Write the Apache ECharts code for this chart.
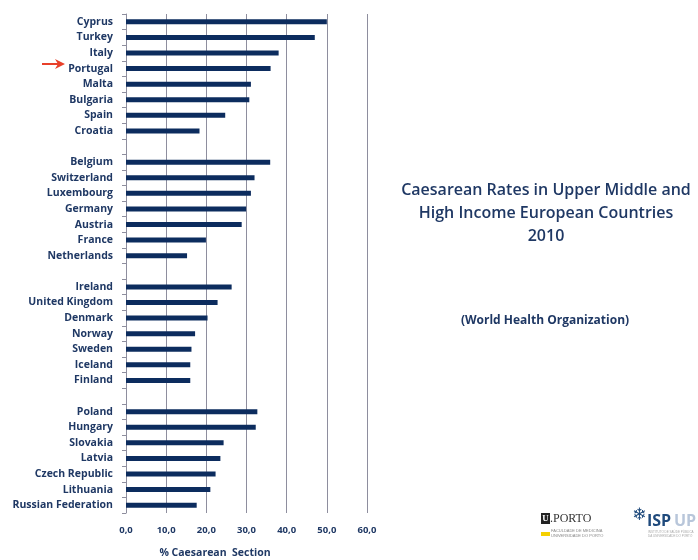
<!DOCTYPE html>
<html>
<head>
<meta charset="utf-8">
<script src="https://cdn.jsdelivr.net/npm/echarts@6/dist/echarts.min.js"></script>
<style>html,body{margin:0;padding:0;background:#fff;}#c{width:698px;height:560px;}</style>
</head>
<body>
<div id="c"></div>
<script>
var countries = ['Cyprus','Turkey','Italy','Portugal','Malta','Bulgaria','Spain','Croatia','',
  'Belgium','Switzerland','Luxembourg','Germany','Austria','France','Netherlands',' ',
  'Ireland','United Kingdom','Denmark','Norway','Sweden','Iceland','Finland','  ',
  'Poland','Hungary','Slovakia','Latvia','Czech Republic','Lithuania','Russian Federation'];
var rates = [50.0,47.0,38.0,36.0,31.1,30.7,24.7,18.3,'-',
  35.9,32.0,31.1,29.9,28.8,19.9,15.2,'-',
  26.3,22.8,20.3,17.2,16.3,16.0,16.0,'-',
  32.7,32.3,24.3,23.5,22.3,21.0,17.6];
var xTicks = [0,10,20,30,40,50,60];
var titleLines = ['Caesarean Rates in Upper Middle and','High Income European Countries','2010'];
var sourceText = '(World Health Organization)';
var axisName = '% Caesarean  Section';

var chart = echarts.init(document.getElementById('c'), null, {renderer:'canvas'});
var txtColor = '#1f3864';
var font = '"Open Sans", Lato, sans-serif';
chart.setOption({
  animation:false,
  grid:{left:126, right:331, top:14, bottom:47, containLabel:false},
  xAxis:{type:'value', min:xTicks[0], max:xTicks[xTicks.length-1], interval:10,
    axisLine:{show:false}, axisTick:{show:false},
    splitLine:{show:true, lineStyle:{color:'#8e8e9e', width:1}},
    axisLabel:{margin:12, color:txtColor, fontSize:9.5, fontWeight:'bold', fontFamily:font,
      formatter:function(v){return v.toFixed(1).replace('.',',');}}
  },
  yAxis:{type:'category', data:countries, inverse:true,
    axisLine:{show:true, lineStyle:{color:'#8e8e9e', width:1}},
    axisTick:{show:true, length:4, lineStyle:{color:'#8e8e9e'}},
    axisLabel:{interval:0, margin:13, color:txtColor, fontSize:10.5, fontWeight:'bold', fontFamily:font}
  },
  series:[{type:'bar', data:rates, barWidth:5, itemStyle:{color:'#0c2c5e'}}],
  graphic:[
    {type:'text', x:215, y:553, style:{text:axisName, fill:txtColor, font:'bold 10.5px '+font, textAlign:'center', textVerticalAlign:'middle'}},
    {type:'text', x:546, y:190, style:{text:titleLines[0], fill:txtColor, font:'600 16px '+font, textAlign:'center', textVerticalAlign:'middle'}},
    {type:'text', x:546, y:213, style:{text:titleLines[1], fill:txtColor, font:'600 16px '+font, textAlign:'center', textVerticalAlign:'middle'}},
    {type:'text', x:546, y:236, style:{text:titleLines[2], fill:txtColor, font:'600 16px '+font, textAlign:'center', textVerticalAlign:'middle'}},
    {type:'text', x:545, y:321, style:{text:sourceText, fill:txtColor, font:'bold 12px '+font, textAlign:'center', textVerticalAlign:'middle'}},
    {type:'group', children:[
      {type:'line', shape:{x1:42,y1:64,x2:62,y2:64}, style:{stroke:'#e8402a', lineWidth:2}},
      {type:'polygon', shape:{points:[[55,59],[65,64],[55,69],[58,64]]}, style:{fill:'#e8402a'}}
    ]},
    {type:'rect', shape:{x:541,y:513,width:9,height:11}, style:{fill:'#222'}},
    {type:'text', x:545.5, y:519, style:{text:'U', fill:'#fff', font:'bold 9px serif', textAlign:'center', textVerticalAlign:'middle'}},
    {type:'text', x:550, y:519, style:{text:'.PORTO', fill:'#333', font:'12px "Liberation Serif", serif', textVerticalAlign:'middle'}},
    {type:'rect', shape:{x:541,y:532,width:9,height:4}, style:{fill:'#f5d000'}},
    {type:'text', x:551, y:531, style:{text:'FACULDADE DE MEDICINA', fill:'#888', font:'4px sans-serif', textVerticalAlign:'middle'}},
    {type:'text', x:551, y:536, style:{text:'UNIVERSIDADE DO PORTO', fill:'#888', font:'4px sans-serif', textVerticalAlign:'middle'}},
    {type:'text', x:639, y:516, style:{text:'\u2744', fill:'#1f4a7c', font:'bold 17px "DejaVu Sans"', textAlign:'center', textVerticalAlign:'middle'}},
    {type:'text', x:647, y:521, style:{text:'ISP', fill:'#1f4a7c', font:'bold 16px '+font, textVerticalAlign:'middle'}},
    {type:'text', x:674, y:521, style:{text:'UP', fill:'#b8c6da', font:'bold 16px '+font, textVerticalAlign:'middle'}},
    {type:'text', x:648, y:532, style:{text:'INSTITUTO DE SAÚDE PÚBLICA', fill:'#aaa', font:'3px sans-serif', textVerticalAlign:'middle'}},
    {type:'text', x:648, y:536, style:{text:'DA UNIVERSIDADE DO PORTO', fill:'#aaa', font:'3px sans-serif', textVerticalAlign:'middle'}}
  ]
});
</script>
</body>
</html>
